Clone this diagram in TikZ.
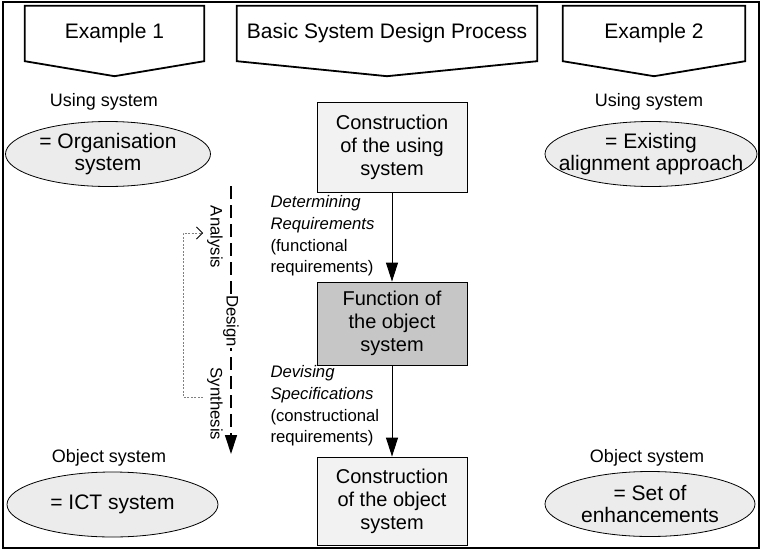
\documentclass[tikz,border=0pt]{standalone}
\usepackage{fontspec}
\setmainfont{Liberation Sans}
\usetikzlibrary{arrows.meta}
\usetikzlibrary{shapes.geometric}

\definecolor{lightfill}{RGB}{242,242,242}
\definecolor{blobfill}{RGB}{236,236,236}
\definecolor{midfill}{RGB}{198,198,198}

\tikzset{
  headbox/.style={minimum width=#1, minimum height=55, inner sep=0pt, font=\fontsize{21}{24}\selectfont},
  headline/.style={line width=1.8pt},
  stagebox/.style={draw, line width=.8pt, minimum width=150, align=center, inner sep=0pt, font=\fontsize{20}{23}\selectfont},
  blob/.style={draw, ellipse, fill=blobfill, line width=.8pt, minimum width=#1, minimum height=65, inner sep=0pt},
  blobtext/.style={align=center, font=\fontsize{21}{22.5}\selectfont},
  tag/.style={font=\fontsize{18}{21}\selectfont},
  note/.style={align=left, font=\fontsize{16.7}{21.7}\selectfont},
  flow/.style={line width=1pt, -{Triangle[width=12pt,length=19pt]}},
  phase/.style={line width=1.2pt, dash pattern=on 13pt off 6pt, -{Triangle[width=12pt,length=19pt]}},
  loopback/.style={gray, line width=.7pt, dash pattern=on 2pt off 1.5pt, -{Straight Barb[length=6pt,width=12pt,black,line width=.8pt]}}
}

\begin{document}
\begin{tikzpicture}[x=1pt,y=-1pt]
\useasboundingbox (0,0) rectangle (762,551);
\draw[line width=1.3pt] (3,2) rectangle (759,548);

\node[headbox=179] (ex1) at (114.5,33.5) {Example 1};
\node[headbox=300] (basic) at (387,33.5) {Basic System Design Process};
\node[headbox=182] (ex2) at (654,33.5) {Example 2};
\foreach \h in {ex1,basic,ex2}
  \draw[headline] (\h.north west) -- (\h.north east) -- (\h.south east) -- ([yshift=-15pt]\h.south) -- (\h.south west) -- cycle;

\node[tag] (use1) at (104,102) {Using system};
\node[blob=205] (org) at (108,154) {};
\node[blobtext] (orgtext) at (org) {= Organisation\\system};
\node[tag] (use2) at (649,102) {Using system};
\node[blob=212] (alignapp) at (651,154) {};
\node[blobtext] (alignapptext) at (alignapp) {= Existing\\alignment approach};

\node[stagebox, fill=lightfill, minimum height=90] (usebox) at (392,147) {Construction\\of the using\\system};
\node[stagebox, fill=midfill, minimum height=83] (funbox) at (392,323.5) {Function of\\the object\\system};
\node[stagebox, fill=lightfill, minimum height=88] (objbox) at (392,501) {Construction\\of the object\\system};
\draw[flow] (usebox) -- (funbox);
\draw[flow] (funbox) -- (objbox);

\node[note, anchor=west] (req) at (267,236) {\textit{Determining}\\\textit{Requirements}\\(functional\\requirements)};
\node[note, anchor=west] (spec) at (267,406) {\textit{Devising}\\\textit{Specifications}\\(constructional\\requirements)};

\coordinate (phtop) at (231,186);
\coordinate (phend) at (231,454);
\draw[phase] (phtop) -- (phend);
\node[note, rotate=-90] (ana) at (215,237) {Analysis};
\node[note, rotate=-90, fill=white, inner sep=1pt] (des) at (231,321) {Design};
\node[note, rotate=-90] (syn) at (215,404) {Synthesis};
\coordinate (fbin) at (203,397);
\coordinate (fbout) at (203,233);
\draw[loopback] (fbin) -- ++(-20,0) |- (fbout);

\node[tag] (obj1) at (109,458) {Object system};
\node[blob=211] (ict) at (112.5,504.5) {};
\node[blobtext] (icttext) at (ict) {= ICT system};
\node[tag] (obj2) at (647,458) {Object system};
\node[blob=210] (enh) at (650,504) {};
\node[blobtext] (enhtext) at (enh) {= Set of\\enhancements};
\end{tikzpicture}
\end{document}
